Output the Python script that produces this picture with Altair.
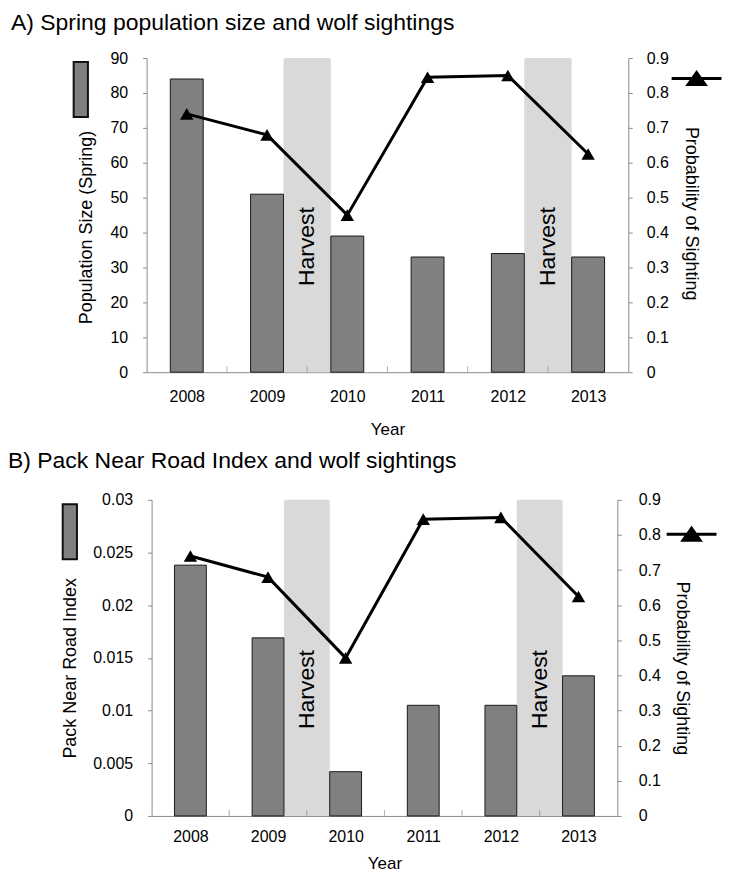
import altair as alt
import pandas as pd

# ---- data ----
years = ["2008", "2009", "2010", "2011", "2012", "2013"]
population_spring = [84, 51, 39, 33, 34, 33]
near_road_index = [0.0238, 0.0169, 0.0042, 0.0105, 0.0105, 0.0133]
prob_sighting = [0.74, 0.68, 0.45, 0.845, 0.85, 0.625]
harvest_after = ["2009", "2012"]          # harvest happened between this year and the next
harvest_label = "Harvest"

pop_ticks = [0, 10, 20, 30, 40, 50, 60, 70, 80, 90]
index_ticks = [0, 0.005, 0.01, 0.015, 0.02, 0.025, 0.03]
prob_ticks = [0, 0.1, 0.2, 0.3, 0.4, 0.5, 0.6, 0.7, 0.8, 0.9]

FONT = "Liberation Sans"
BAR_FRAC = 0.41
AXIS_GREY = "#8c8c8c"
BAR_PATH = "M-0.26,-1H0.26V1H-0.26Z"
LINE_PATH = "M-1,0H1M-0.34,0.24L0,-0.24L0.34,0.24Z"


def panel(values, left_title, left_ticks, left_fmt, title_text, W, H,
          bar_leg, line_leg, title_dx, title_offset, x_lab_pad, x_title_pad,
          left_lab_pad, left_title_pad, left_title_dy,
          right_lab_pad, right_title_pad, right_title_dy):
    n = len(years)
    df = pd.DataFrame({
        "year": years,
        "pos": [i + 0.5 for i in range(n)],
        "value": values,
        "prob": prob_sighting,
    })
    df["x0"] = df["pos"] - BAR_FRAC / 2
    df["x1"] = df["pos"] + BAR_FRAC / 2
    df["bar_series"] = left_title
    df["line_series"] = "Probability of Sighting"

    hv = pd.DataFrame({"a": [years.index(y) for y in harvest_after]})
    hv["x0"] = hv["a"] + 0.5 + BAR_FRAC / 2
    hv["x1"] = hv["a"] + 1.5 - BAR_FRAC / 2
    hv["mid"] = hv["a"] + 1.0
    hv["label"] = harvest_label

    bnd = pd.DataFrame({"b": [float(i) for i in range(1, n)]})

    xscale = alt.Scale(domain=[0, n], nice=False, zero=False)
    label_expr = "[" + ",".join("'%s'" % y for y in years) + "][floor(datum.value)]"
    xaxis = alt.Axis(values=[i + 0.5 for i in range(n)], labelExpr=label_expr,
                     ticks=False, grid=False, title="Year", labelPadding=x_lab_pad,
                     titlePadding=x_title_pad, titleFontSize=17)

    lscale = alt.Scale(domain=[left_ticks[0], left_ticks[-1]], nice=False, zero=True)
    laxis = alt.Axis(values=left_ticks, format=left_fmt, title=left_title, grid=False,
                     tickSize=4, labelPadding=left_lab_pad, titlePadding=left_title_pad,
                     titleY=H / 2 + left_title_dy)
    rscale = alt.Scale(domain=[prob_ticks[0], prob_ticks[-1]], nice=False, zero=True)
    raxis = alt.Axis(values=prob_ticks, format=".1~f", title="Probability of Sighting",
                     orient="right", grid=False, tickSize=4, labelPadding=right_lab_pad,
                     titlePadding=right_title_pad, titleY=H / 2 + right_title_dy)

    harvest = alt.Chart(hv).mark_rect(color="#d9d9d9", cornerRadius=2).encode(
        x=alt.X("x0:Q", scale=xscale, axis=xaxis), x2="x1:Q")

    bars = alt.Chart(df).mark_rect(stroke="#1a1a1a", strokeWidth=1).encode(
        x=alt.X("x0:Q", scale=xscale, axis=xaxis), x2="x1:Q",
        y=alt.Y("value:Q", scale=lscale, axis=laxis), y2=alt.datum(0),
        fill=alt.Fill("bar_series:N", scale=alt.Scale(range=["#808080"]),
                      legend=alt.Legend(orient="none", legendX=bar_leg[0], legendY=bar_leg[1],
                                        title=None, labelExpr="''", symbolType=BAR_PATH,
                                        symbolSize=3025, symbolFillColor="#808080",
                                        symbolStrokeColor="#111111", symbolStrokeWidth=2)))

    htext = alt.Chart(hv).mark_text(angle=270, font=FONT, fontSize=23, color="black",
                                    align="center", baseline="middle").encode(
        x=alt.X("mid:Q", scale=xscale, axis=xaxis), y=alt.value(H * 0.6), text="label:N")

    ticks = alt.Chart(bnd).mark_tick(size=6, thickness=1, color=AXIS_GREY).encode(
        x=alt.X("b:Q", scale=xscale, axis=xaxis), y=alt.value(H - 3))

    line = alt.Chart(df).mark_line(strokeWidth=3).encode(
        x=alt.X("pos:Q", scale=xscale, axis=xaxis),
        y=alt.Y("prob:Q", scale=rscale, axis=raxis),
        stroke=alt.Stroke("line_series:N", scale=alt.Scale(range=["black"]),
                          legend=alt.Legend(orient="none", legendX=line_leg[0], legendY=line_leg[1],
                                            title=None, labelExpr="''", symbolType=LINE_PATH,
                                            symbolSize=2500, symbolFillColor="black",
                                            symbolStrokeColor="black", symbolStrokeWidth=3,
                                            labelOffset=0)))
    pts = alt.Chart(df).mark_point(shape="triangle-up", filled=True, size=180,
                                   color="black", opacity=1).encode(
        x=alt.X("pos:Q", scale=xscale, axis=xaxis),
        y=alt.Y("prob:Q", scale=rscale, axis=raxis))

    left = alt.layer(harvest, bars, htext, ticks)
    right = alt.layer(line, pts)
    return alt.layer(left, right).resolve_scale(y="independent").properties(
        width=W, height=H,
        title=alt.TitleParams(title_text, anchor="start", frame="group", dx=title_dx,
                              offset=title_offset, fontSize=23, font=FONT,
                              fontWeight="normal", color="black"))


top = panel(population_spring, "Population Size (Spring)", pop_ticks, "d",
            "A) Spring population size and wolf sightings", 483, 315,
            bar_leg=(-94.5, 3), line_leg=(525, -6),
            title_dx=-136, title_offset=15,
            x_lab_pad=16, x_title_pad=17, left_lab_pad=15, left_title_pad=14,
            left_title_dy=12, right_lab_pad=14, right_title_pad=13, right_title_dy=-2)
bottom = panel(near_road_index, "Pack Near Road Index", index_ticks, ".3~f",
               "B) Pack Near Road Index and wolf sightings", 467, 317,
               bar_leg=(-110.5, 3.5), line_leg=(515, 8),
               title_dx=-144, title_offset=19,
               x_lab_pad=13, x_title_pad=11, left_lab_pad=15, left_title_pad=13,
               left_title_dy=10, right_lab_pad=17, right_title_pad=12, right_title_dy=10)

chart = alt.vconcat(top, bottom, spacing=13, center=True).resolve_scale(
    fill="independent", stroke="independent").resolve_legend(
    fill="independent", stroke="independent").properties(
    padding={"left": 0, "top": 3, "right": -6, "bottom": 0},
    background="white").configure_view(stroke=None).configure_axis(
    labelFont=FONT, labelFontSize=16, labelColor="black",
    titleFont=FONT, titleFontSize=18, titleFontWeight="normal", titleColor="black",
    domainColor=AXIS_GREY, tickColor=AXIS_GREY, domainWidth=1)

chart.save("out.html", embed_options={"renderer": "svg", "actions": False})
